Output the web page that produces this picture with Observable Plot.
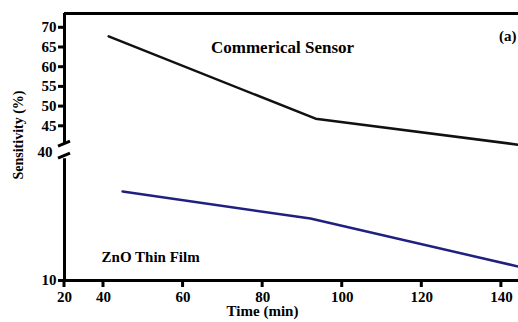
<!DOCTYPE html>
<html><head><meta charset="utf-8">
<script src="https://cdn.jsdelivr.net/npm/d3@7"></script>
<script src="https://cdn.jsdelivr.net/npm/@observablehq/plot@0.6"></script>
<style>body{margin:0;background:#fff;overflow:hidden}svg{display:block}</style>
</head><body><div id="chart"></div>
<script>
// Data
const timeTicks = [20, 40, 60, 80, 100, 120, 140];
const sensTicks = [10, 45, 50, 55, 60, 65, 70];
const breakLabel = "40";
const commercialTime = [41.3, 93.3, 144.3];
const commercialSens = [67.7, 46.8, 40.2];
const znoTime = [44.8, 92, 144.3];
const znoSens = [31.7, 25.1, 13.4];
const seriesNames = ["Commerical Sensor", "ZnO Thin Film"];

const commercial = commercialTime.map((t, i) => ({time: t, sens: commercialSens[i]}));
const zno = znoTime.map((t, i) => ({time: t, sens: znoSens[i]}));

// broken / uneven axes, as in the original figure
const xDomain = [20, 40, 144.3];
const yDomain = [10, 39.7, 40, 73.5]; // 39.7..40 is the axis break gap
const yAxisUpperStart = 40.5;
const xBreak = d3.scaleLinear().domain(xDomain).range([0, 39, 454]);
const yBreak = d3.scaleLinear().domain(yDomain).range([0, 121.8, 135, 267]);
// axis marks take tick positions in transformed space
const xTickLabel = new Map(timeTicks.map(t => [xBreak(t), String(t)]));
const yTickLabel = new Map(sensTicks.map(v => [yBreak(v), String(v)]));

// axis-break slashes and x tick marks, placed through the plot's scales
function axisDecor(index, scales) {
  const g = d3.create("svg:g").attr("stroke", "#000").attr("stroke-width", 3);
  const x0 = scales.x(xBreak(xDomain[0]));
  const ys = [scales.y(yBreak(yAxisUpperStart)), scales.y(yBreak(yDomain[1])) - 3];
  for (const y of ys) {
    g.append("line").attr("x1", x0 - 6).attr("x2", x0 + 6).attr("y1", y + 3).attr("y2", y - 2);
  }
  const yb = scales.y(yBreak(yDomain[0]));
  for (const t of timeTicks) {
    const x = scales.x(xBreak(t));
    g.append("line").attr("x1", x).attr("x2", x).attr("y1", yb).attr("y2", yb + 7);
  }
  return g.node();
}

const chart = Plot.plot({
  width: 518, height: 322,
  marginLeft: 64, marginRight: 0, marginTop: 13, marginBottom: 42,
  style: {fontFamily: "'Liberation Serif', 'Times New Roman', serif", fontWeight: "bold", fontSize: "15px", color: "#000", background: "#fff", overflow: "visible"},
  x: {type: "linear", transform: xBreak, domain: [0, 454]},
  y: {type: "linear", transform: yBreak, domain: [0, 267]},
  marks: [
    Plot.axisX({ticks: timeTicks.map(xBreak), tickSize: 0, tickPadding: 11, label: null, tickFormat: u => xTickLabel.get(u)}),
    Plot.axisY({ticks: sensTicks.map(yBreak), tickSize: 6, tickPadding: 2, strokeWidth: 3, stroke: "#000", label: null, tickFormat: u => yTickLabel.get(u)}),
    Plot.text([breakLabel], {x: xDomain[0], y: 39.85, text: d => d, dx: -12, textAnchor: "end"}),
    // axis lines and top border
    Plot.ruleY([yDomain[0]], {x1: xDomain[0], x2: xDomain[2], strokeWidth: 3}),
    Plot.ruleY([yDomain[3]], {x1: xDomain[0], x2: xDomain[2], strokeWidth: 3}),
    Plot.ruleX([{a: yDomain[0], b: yDomain[1]}, {a: yAxisUpperStart, b: yDomain[3]}], {x: xDomain[0], y1: "a", y2: "b", strokeWidth: 3}),
    axisDecor,
    // series
    Plot.line(commercial, {x: "time", y: "sens", stroke: "#111", strokeWidth: 2.5}),
    Plot.line(zno, {x: "time", y: "sens", stroke: "#202080", strokeWidth: 2.5}),
    // labels
    Plot.text([seriesNames[0]], {x: 85, y: 64.9, text: d => d, fontSize: 17}),
    Plot.text([seriesNames[1]], {x: 39, y: 15.6, text: d => d, textAnchor: "start", fontSize: 15}),
    Plot.text(["(a)"], {frameAnchor: "top-right", text: d => d, dx: -2, dy: 17, fontSize: 15}),
    Plot.text(["Time (min)"], {frameAnchor: "bottom", text: d => d, dx: -29, dy: 35}),
    Plot.text(["Sensitivity (%)"], {frameAnchor: "left", textAnchor: "middle", text: d => d, rotate: -90, dx: -46, dy: -12, fontSize: 14})
  ]
});
document.getElementById("chart").append(chart);
</script>
</body></html>
